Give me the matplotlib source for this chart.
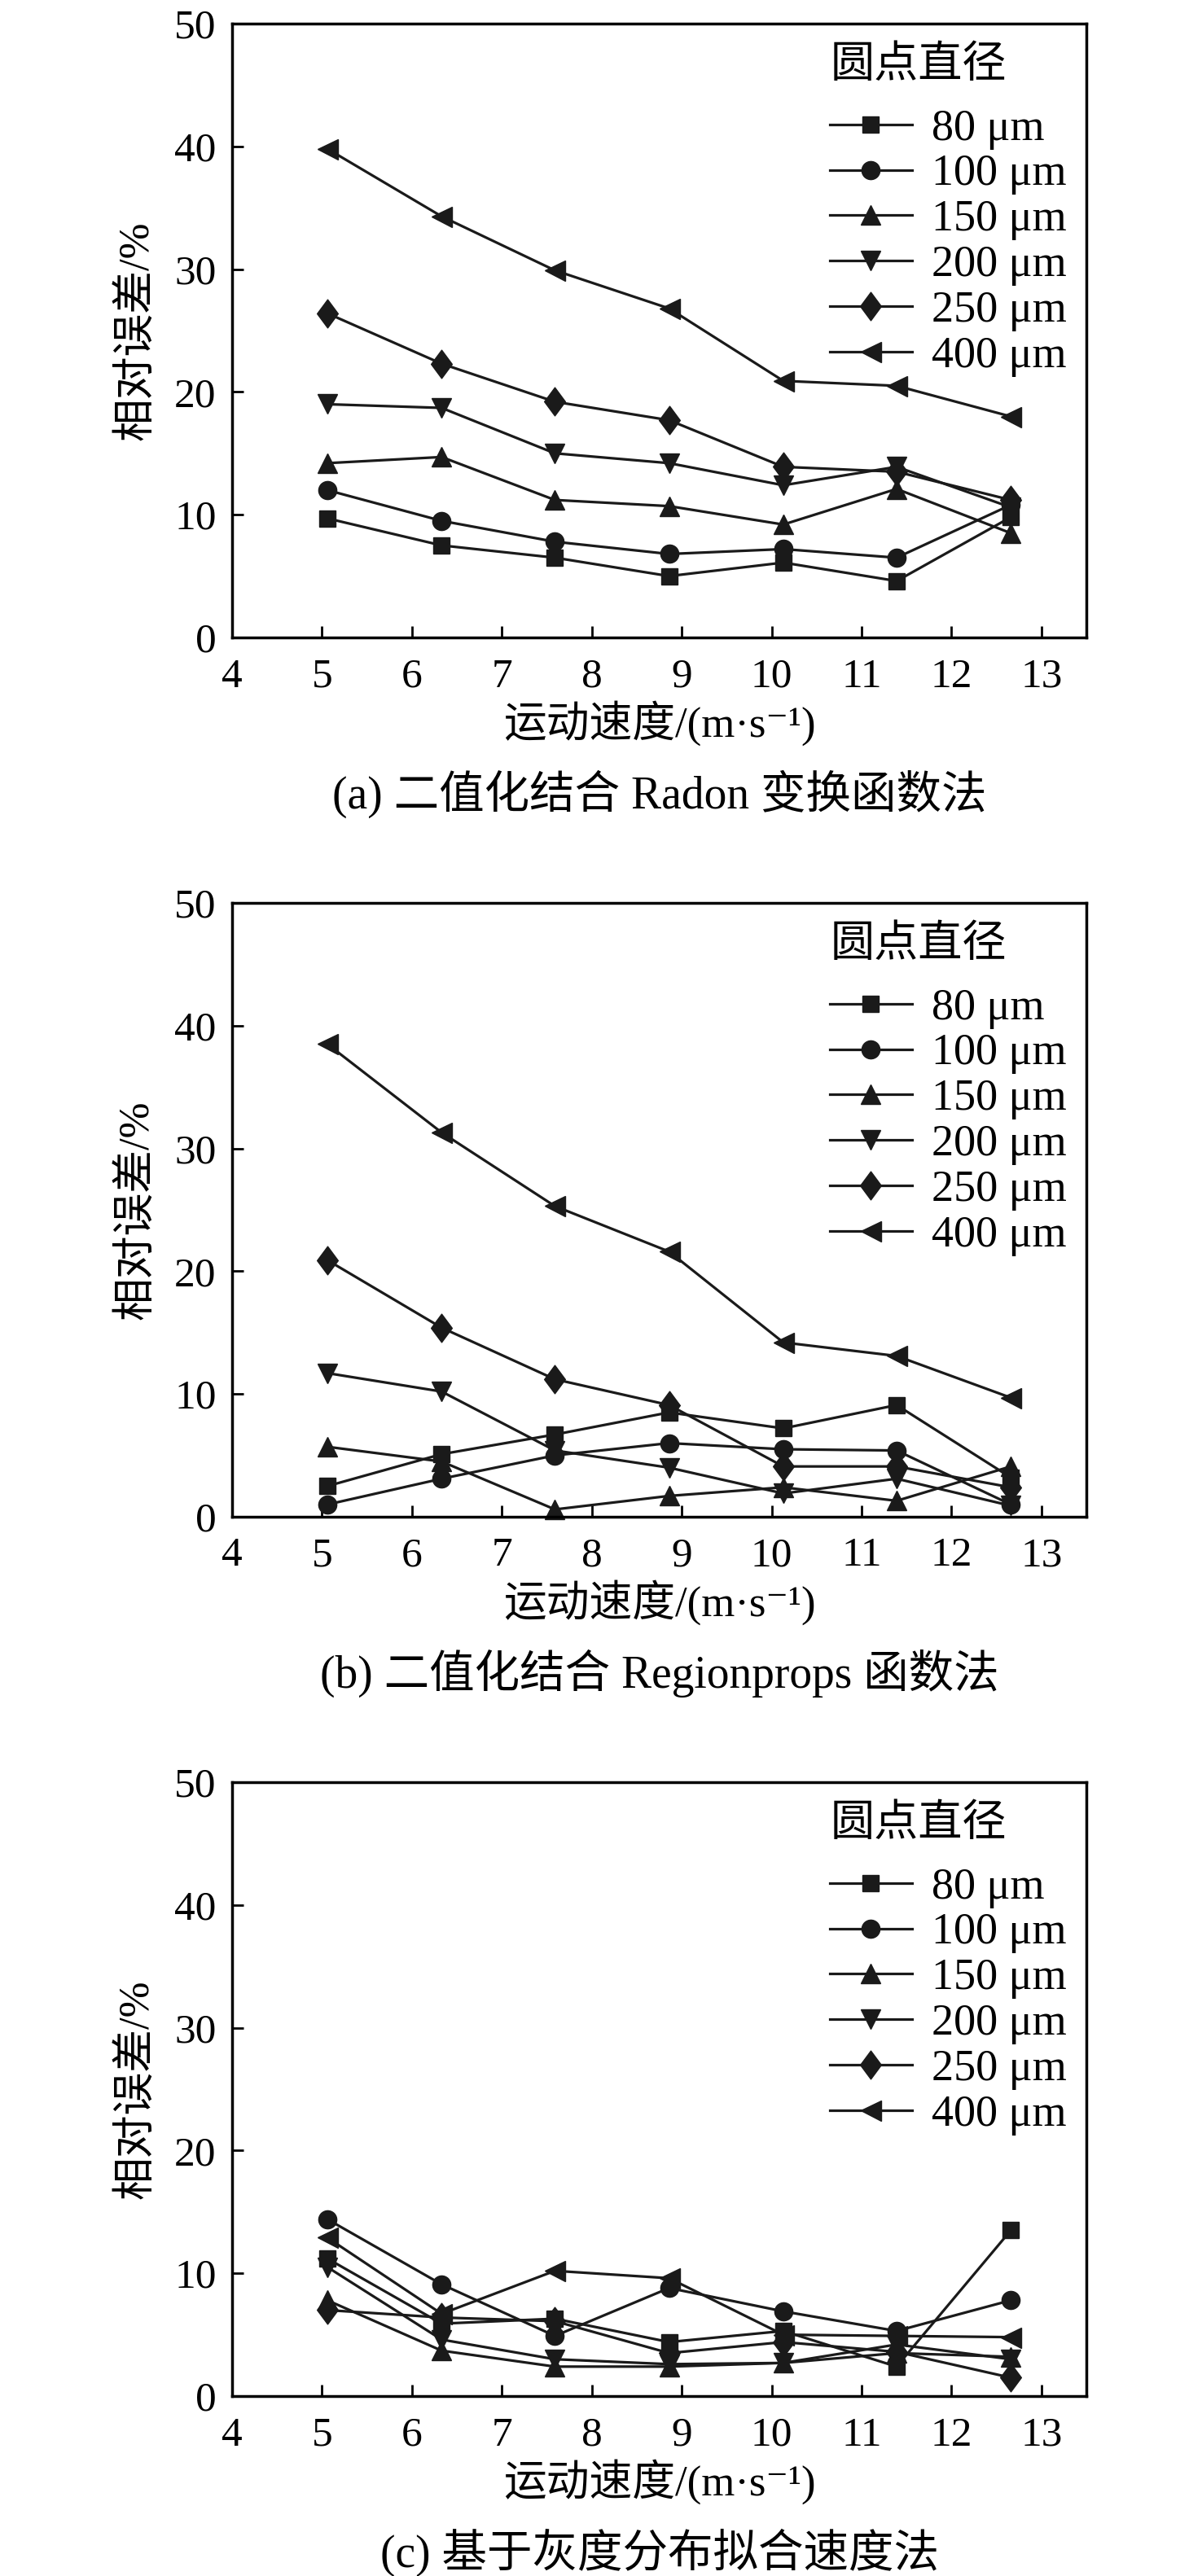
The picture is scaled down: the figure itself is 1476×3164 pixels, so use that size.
import numpy as np
import matplotlib
matplotlib.use("Agg")
import matplotlib.pyplot as plt
from matplotlib.path import Path

plt.rcParams['font.family'] = ['Liberation Serif', 'Noto Sans CJK SC', 'DejaVu Serif']

# speeds (m/s)
speed = [5.06, 6.33, 7.59, 8.86, 10.13, 11.39, 12.66]
sizes = ["80 μm", "100 μm", "150 μm", "200 μm", "250 μm", "400 μm"]

# (a) binarization + Radon
err_a_80 = [9.7, 7.5, 6.5, 5.0, 6.1, 4.6, 9.8]
err_a_100 = [12.0, 9.5, 7.8, 6.8, 7.2, 6.5, 10.8]
err_a_150 = [14.2, 14.7, 11.2, 10.7, 9.2, 12.1, 8.5]
err_a_200 = [19.0, 18.7, 15.0, 14.2, 12.4, 13.9, 10.6]
err_a_250 = [26.4, 22.3, 19.2, 17.7, 13.9, 13.5, 11.2]
err_a_400 = [39.8, 34.3, 29.9, 26.8, 20.9, 20.5, 18.0]

# (b) binarization + Regionprops
err_b_80 = [2.5, 5.1, 6.7, 8.5, 7.2, 9.1, 3.2]
err_b_100 = [1.0, 3.1, 5.0, 6.0, 5.5, 5.4, 1.0]
err_b_150 = [5.7, 4.5, 0.6, 1.7, 2.4, 1.3, 4.1]
err_b_200 = [11.7, 10.2, 5.4, 4.0, 1.9, 3.1, 0.9]
err_b_250 = [20.9, 15.4, 11.2, 9.1, 4.1, 4.1, 2.4]
err_b_400 = [38.5, 31.3, 25.3, 21.6, 14.2, 13.1, 9.7]

# (c) gray distribution fitting
err_c_80 = [11.2, 5.9, 6.3, 4.4, 5.3, 2.4, 13.5]
err_c_100 = [14.4, 9.1, 4.9, 8.8, 6.9, 5.3, 7.8]
err_c_150 = [7.8, 3.7, 2.4, 2.4, 2.7, 3.5, 3.2]
err_c_200 = [10.5, 4.6, 3.0, 2.6, 2.7, 4.2, 3.0]
err_c_250 = [7.0, 6.4, 6.1, 3.5, 4.4, 3.6, 1.5]
err_c_400 = [12.9, 6.7, 10.2, 9.6, 5.0, 4.9, 4.8]

panels = [
    ([err_a_80, err_a_100, err_a_150, err_a_200, err_a_250, err_a_400],
     "(a) 二值化结合 Radon 变换函数法"),
    ([err_b_80, err_b_100, err_b_150, err_b_200, err_b_250, err_b_400],
     "(b) 二值化结合 Regionprops 函数法"),
    ([err_c_80, err_c_100, err_c_150, err_c_200, err_c_250, err_c_400],
     "(c) 基于灰度分布拟合速度法"),
]

diamond = Path([(0, 1), (0.74, 0), (0, -1), (-0.74, 0), (0, 1)],
               [Path.MOVETO, Path.LINETO, Path.LINETO, Path.LINETO, Path.CLOSEPOLY])
markers = ['s', 'o', '^', 'v', diamond, '<']
msizes = [14, 16, 17, 17, 25, 18]

W, H = 1476, 3164
fig = plt.figure(figsize=(W / 100, H / 100), dpi=100)

for i, (series, caption) in enumerate(panels):
    off = i * 1080
    top, bot = 29 + off, 783 + off
    left, right = 285, 1334
    ax = fig.add_axes([left / W, 1 - bot / H, (right - left) / W, (bot - top) / H])
    for vals, lab, mk, ms in zip(series, sizes, markers, msizes):
        ax.plot(speed, vals, color='#1a1a1a', lw=2.3, marker=mk, ms=ms,
                label=lab, clip_on=False)
    ax.set_xlim(4, 13.5)
    ax.set_ylim(0, 50)
    ax.set_xticks(range(4, 14))
    ax.set_yticks(range(0, 51, 10))
    ax.tick_params(direction='in', length=10, width=2, labelsize=37,
                   top=False, right=False)
    ax.tick_params(axis='x', pad=18)
    ax.tick_params(axis='y', pad=14)
    for sp in ax.spines.values():
        sp.set_linewidth(2.5)
    ax.set_ylabel("相对误差/%", fontsize=38, labelpad=15)
    ax.set_xlabel("运动速度/(m·s⁻¹)", fontsize=38, labelpad=4)
    ax.text(0.70, 1 - 53 / 754, "圆点直径", transform=ax.transAxes,
            fontsize=39, ha='left', va='center')
    ax.legend(loc='upper left', bbox_to_anchor=(0.70, 0.862),
              frameon=False, fontsize=39, handlelength=1.85,
              handletextpad=0.45, labelspacing=0.1, borderpad=0,
              borderaxespad=0)
    fig.text((left + right) / 2 / W, 1 - (975 + off) / H, caption,
             fontsize=40, ha='center', va='center')

fig.savefig("out.png", dpi=100)
